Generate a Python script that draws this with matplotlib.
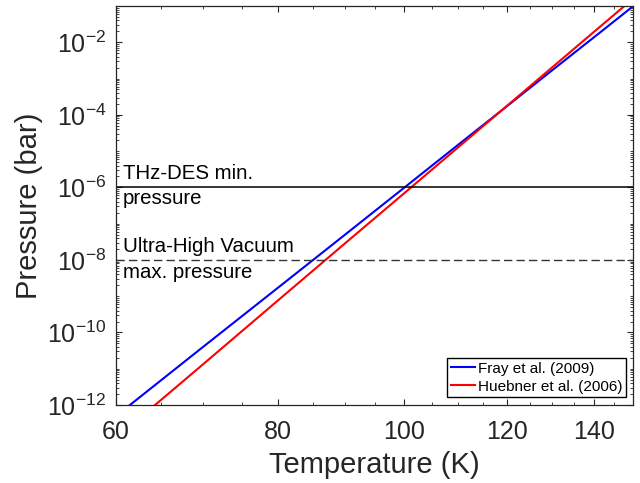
import matplotlib
matplotlib.use('Agg')
import matplotlib.pyplot as plt
from matplotlib.ticker import FixedLocator, FixedFormatter, NullFormatter

# 蒸气压曲线（读数点）
T_fray = [61.5, 70, 80, 90, 100, 110, 120, 130, 140, 150]
P_fray = [1e-12, 3.98e-11, 1.74e-9, 4.9e-8, 9.8e-7, 1.48e-5, 1.74e-4, 1.70e-3, 1.38e-2, 9.8e-2]
T_huebner = [64.3, 70, 80, 90, 100, 110, 120, 130, 140, 150]
P_huebner = [1e-12, 1.32e-11, 7.8e-10, 2.82e-8, 6.9e-7, 1.26e-5, 1.78e-4, 2.04e-3, 1.95e-2, 1.58e-1]

thz_des_min = 1e-6   # THz-DES 最低压力
uhv_max = 1e-8       # 超高真空上限

x_major = [60, 80, 100, 120, 140]
x_minor = list(range(65, 151, 5))
y_major_exp = [-12, -10, -8, -6, -4, -2]

plt.rcParams['font.family'] = ['Liberation Sans', 'DejaVu Sans']
plt.rcParams['mathtext.fontset'] = 'custom'
plt.rcParams['mathtext.rm'] = 'Liberation Sans'
txt_c = '#262626'

fig = plt.figure(figsize=(6.4, 4.83), dpi=100)
ax = fig.add_axes([116 / 640, 1 - 405 / 483, 517 / 640, 399 / 483])

ax.plot(T_fray, P_fray, color=(0, 0, 1), lw=1.5, label='Fray et al. (2009)')
ax.plot(T_huebner, P_huebner, color=(1, 0, 0), lw=1.5, label='Huebner et al. (2006)')
ax.axhline(thz_des_min, color='k', lw=1.1)
ax.axhline(uhv_max, color='#333333', lw=1.0, dashes=(6, 3))

ax.set_xscale('log')
ax.set_yscale('log')
ax.set_xlim(60, 150)
ax.set_ylim(1e-12, 1e-1)

ax.xaxis.set_major_locator(FixedLocator(x_major))
ax.xaxis.set_major_formatter(FixedFormatter([str(v) for v in x_major]))
ax.xaxis.set_minor_locator(FixedLocator([v for v in x_minor if v not in x_major]))
ax.xaxis.set_minor_formatter(NullFormatter())

ax.yaxis.set_major_locator(FixedLocator([10.0 ** e for e in y_major_exp]))
ax.yaxis.set_major_formatter(FixedFormatter([r'$\mathregular{10^{%d}}$' % e for e in y_major_exp]))
y_minor = [k * 10.0 ** e for e in range(-12, -1) for k in range(1, 10)
           if not (k == 1 and e in y_major_exp)]
ax.yaxis.set_minor_locator(FixedLocator(y_minor))
ax.yaxis.set_minor_formatter(NullFormatter())

ax.tick_params(which='both', direction='in', top=True, right=True, colors=txt_c)
ax.tick_params(which='major', length=4.5, width=0.8, labelsize=18)
ax.tick_params(axis='x', which='major', pad=11)
ax.tick_params(axis='y', which='major', pad=7)
ax.tick_params(which='minor', length=2.5, width=0.6)
for s in ax.spines.values():
    s.set_color(txt_c)
    s.set_linewidth(0.9)

ax.set_xlabel('Temperature (K)', fontsize=21, color=txt_c, labelpad=5)
ax.set_ylabel('Pressure (bar)', fontsize=21, color=txt_c, labelpad=3)

# 水平参考线的文字说明
kw = dict(textcoords='offset pixels', fontsize=14.7, color='k', ha='left', va='baseline')
ax.annotate('THz-DES min.', xy=(60, thz_des_min), xytext=(7, 8), **kw)
ax.annotate('pressure', xy=(60, thz_des_min), xytext=(7, -16.5), **kw)
ax.annotate('Ultra-High Vacuum', xy=(60, uhv_max), xytext=(7, 8), **kw)
ax.annotate('max. pressure', xy=(60, uhv_max), xytext=(7, -18.5), **kw)

leg = ax.legend(loc='lower right', bbox_to_anchor=(0.9865, 0.02), borderaxespad=0,
                fontsize=11, handlelength=1.57, handletextpad=0.2, labelspacing=0.25,
                borderpad=0.23, fancybox=False, framealpha=1, edgecolor='k')
leg.get_frame().set_linewidth(1.0)

fig.savefig('out.png', dpi=100)
